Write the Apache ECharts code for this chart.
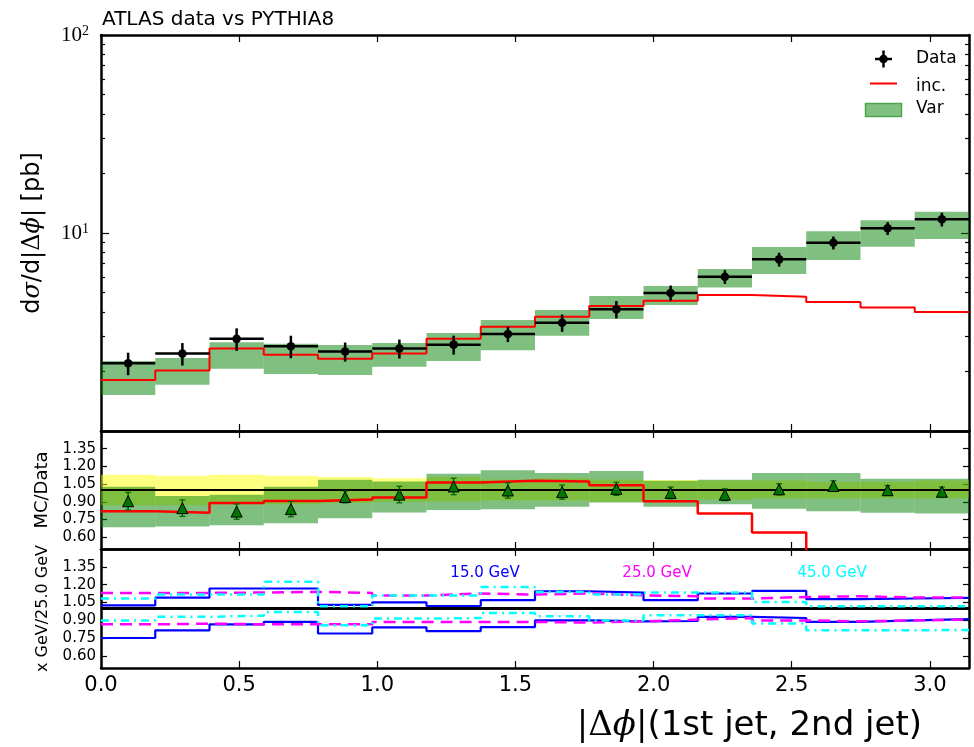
<!DOCTYPE html>
<html><head><meta charset="utf-8">
<script src="https://cdn.jsdelivr.net/npm/echarts@6/dist/echarts.min.js"></script>
<style>html,body{margin:0;padding:0;background:#fff}#c{width:974px;height:747px}</style>
</head><body><div id="c"></div>
<script>
// ---------- binning / ticks ----------
const nBins = 16;
const xMax = Math.PI;
const xTicks = [0, 0.5, 1.0, 1.5, 2.0, 2.5, 3.0];
const ratioTicks = [0.60, 0.75, 0.90, 1.05, 1.20, 1.35];
const logMajor = [10, 100];
const logMinor = [2, 3, 4, 5, 6, 7, 8, 9, 20, 30, 40, 50, 60, 70, 80, 90];
const gevLabels = ['15.0 GeV', '25.0 GeV', '45.0 GeV'];

// ---------- top panel ----------
const dataVal    = [2.20, 2.46, 2.92, 2.68, 2.52, 2.61, 2.73, 3.09, 3.52, 4.12, 4.98, 6.01, 7.36, 8.93, 10.56, 11.73];
const dataRelErr = [0.13, 0.13, 0.13, 0.13, 0.11, 0.11, 0.11, 0.09, 0.10, 0.10, 0.09, 0.08, 0.08, 0.075, 0.075, 0.08];
const incVal     = [1.81, 2.02, 2.61, 2.43, 2.32, 2.46, 2.92, 3.36, 3.78, 4.28, 4.55, 4.86, 4.77, 4.48, 4.20, 3.99];
const varLo      = [1.52, 1.71, 2.06, 1.94, 1.92, 2.11, 2.26, 2.56, 3.03, 3.68, 4.33, 5.30, 6.21, 7.31, 8.53, 9.33];
const varHi      = [2.26, 2.34, 2.81, 2.76, 2.72, 2.78, 3.13, 3.64, 4.08, 4.81, 5.40, 6.58, 8.49, 10.2, 11.6, 12.8];

// ---------- MC/Data panel ----------
const yelLo  = [0.87, 0.87, 0.88, 0.88, 0.89, 0.90, 0.90, 0.91, 0.91, 0.90, 0.92, 0.92, 0.93, 0.93, 0.93, 0.93];
const yelHi  = [1.13, 1.12, 1.13, 1.12, 1.11, 1.10, 1.11, 1.09, 1.10, 1.09, 1.085, 1.08, 1.08, 1.07, 1.07, 1.08];
const rVarLo = [0.684, 0.69, 0.701, 0.718, 0.76, 0.81, 0.83, 0.836, 0.859, 0.895, 0.859, 0.88, 0.842, 0.819, 0.808, 0.80];
const rVarHi = [1.027, 0.949, 0.96, 1.027, 1.086, 1.072, 1.137, 1.168, 1.145, 1.162, 1.078, 1.086, 1.145, 1.145, 1.095, 1.095];
const rInc   = [0.819, 0.808, 0.89, 0.907, 0.92, 0.937, 1.063, 1.078, 1.072, 1.04, 0.904, 0.80, 0.64, 0.46, 0.40, 0.34];
const triVal = [0.905, 0.846, 0.817, 0.838, 0.941, 0.961, 1.03, 0.996, 0.982, 1.01, 0.975, 0.96, 1.006, 1.034, 0.998, 0.985];
const triErr = [0.075, 0.07, 0.065, 0.065, 0.05, 0.07, 0.07, 0.065, 0.06, 0.056, 0.05, 0.05, 0.047, 0.044, 0.04, 0.04];

// ---------- scale-variation panel ----------
const blueHi = [1.027, 1.092, 1.168, 1.168, 1.03, 1.052, 1.021, 1.07, 1.145, 1.134, 1.07, 1.126, 1.148, 1.078, 1.084, 1.089];
const blueLo = [0.752, 0.817, 0.867, 0.887, 0.79, 0.842, 0.81, 0.844, 0.90, 0.892, 0.895, 0.929, 0.92, 0.887, 0.90, 0.91];
const magHi  = [1.131, 1.131, 1.134, 1.14, 1.131, 1.11, 1.126, 1.117, 1.126, 1.11, 1.103, 1.084, 1.097, 1.103, 1.092, 1.092];
const magLo  = [0.867, 0.873, 0.867, 0.867, 0.867, 0.887, 0.887, 0.887, 0.881, 0.892, 0.907, 0.92, 0.90, 0.892, 0.90, 0.907];
const cyanHi = [1.084, 1.117, 1.117, 1.224, 1.019, 1.11, 1.11, 1.181, 1.139, 1.117, 1.134, 1.134, 1.055, 1.019, 1.019, 1.02];
const cyanLo = [0.90, 0.93, 0.94, 0.97, 0.859, 0.915, 0.92, 0.962, 0.935, 0.90, 0.943, 0.943, 0.873, 0.817, 0.817, 0.82];

// ---------- helpers ----------
const edges = Array.from({length: nBins + 1}, (_, i) => i * xMax / nBins);
function stepPoints(vals) {
  const pts = [];
  vals.forEach((v, i) => { pts.push([edges[i], v]); pts.push([edges[i + 1], v]); });
  return pts;
}
function bandData(lo, hi) { return lo.map((l, i) => [edges[i], edges[i + 1], l, hi[i]]); }
function bandSeries(xi, yi, lo, hi, color, z) {
  return {
    type: 'custom', xAxisIndex: xi, yAxisIndex: yi, z, silent: true, clip: true,
    data: bandData(lo, hi), encode: {x: [0, 1], y: [2, 3]},
    renderItem(params, api) {
      const p0 = api.coord([api.value(0), api.value(3)]);
      const p1 = api.coord([api.value(1), api.value(2)]);
      return {type: 'rect', shape: {x: p0[0], y: p0[1], width: p1[0] - p0[0], height: p1[1] - p0[1]},
              style: {fill: color}};
    }
  };
}
function stepLine(xi, yi, vals, color, width, type, z) {
  return {type: 'line', xAxisIndex: xi, yAxisIndex: yi, z, silent: true, clip: true,
          data: stepPoints(vals), symbol: 'none', showSymbol: false,
          lineStyle: {color, width, type}};
}
function unityLine(xi, yi, width, z) {
  return {type: 'line', xAxisIndex: xi, yAxisIndex: yi, z, silent: true,
          data: [[0, 1], [xMax, 1]], symbol: 'none', lineStyle: {color: '#000', width}};
}

const AXW = 2.5;
function xAxisDef(gridIndex, position, showLabels) {
  return {
    type: 'value', gridIndex, position, min: 0, max: xMax,
    axisLine: {show: true, onZero: false, lineStyle: {color: '#000', width: AXW}},
    axisTick: {show: true, inside: true, length: 7, customValues: xTicks, lineStyle: {color: '#000', width: 1.2}},
    axisLabel: showLabels ? {show: true, customValues: xTicks, formatter: v => v.toFixed(1),
      color: '#000', fontSize: 21, fontFamily: 'DejaVu Sans', margin: 7} : {show: false},
    splitLine: {show: false}
  };
}
function yLogDef(position, ticks, len, showLine, showLabels) {
  const ax = {
    type: 'log', logBase: 10, gridIndex: 0, position, offset: 0, min: 1, max: 100,
    axisLine: {show: showLine, onZero: false, lineStyle: {color: '#000', width: AXW}},
    axisTick: {show: true, inside: true, length: len, customValues: ticks, lineStyle: {color: '#000', width: 1.2}},
    axisLabel: {show: false},
    splitLine: {show: false}, minorTick: {show: false}
  };
  if (showLabels) {
    ax.axisLabel = {
      show: true, customValues: logMajor, margin: 12,
      formatter: v => '{b|10}{s|' + Math.round(Math.log10(v)) + '}',
      rich: {
        b: {fontFamily: 'Liberation Serif', fontSize: 21, lineHeight: 22, color: '#000'},
        s: {fontFamily: 'Liberation Serif', fontSize: 14, lineHeight: 14, color: '#000', verticalAlign: 'top'}
      }
    };
    ax.name = '{a|d}{m|σ}{a|/d}{u||Δ}{m|ϕ}{u||}{a| [pb]}';
    ax.nameLocation = 'middle';
    ax.nameRotate = 90;
    ax.nameGap = 56;
    ax.nameMoveOverlap = false;
    ax.nameTextStyle = {
      color: '#000', fontSize: 24,
      rich: {
        a: {fontFamily: 'DejaVu Sans', fontSize: 24, color: '#000'},
        m: {fontFamily: 'DejaVu Serif', fontStyle: 'italic', fontSize: 24, color: '#000'},
        u: {fontFamily: 'DejaVu Serif', fontSize: 24, color: '#000'}
      }
    };
  }
  return ax;
}
function yRatioDef(gridIndex, position, showLabels, name, nameSize) {
  const ax = {
    type: 'value', gridIndex, position, min: 0.5, max: 1.5,
    axisLine: {show: true, onZero: false, lineStyle: {color: '#000', width: AXW}},
    axisTick: {show: true, inside: true, length: 6, customValues: ratioTicks, lineStyle: {color: '#000', width: 1.2}},
    axisLabel: showLabels ? {show: true, customValues: ratioTicks, formatter: v => v.toFixed(2),
      color: '#000', fontSize: 15, fontFamily: 'DejaVu Sans', margin: 5} : {show: false},
    splitLine: {show: false}
  };
  if (name) {
    ax.name = name; ax.nameLocation = 'middle'; ax.nameRotate = 90; ax.nameGap = 50;
    ax.nameMoveOverlap = false;
    ax.nameTextStyle = {color: '#000', fontSize: nameSize, fontFamily: 'DejaVu Sans'};
  }
  return ax;
}

const grids = [
  {left: 101, top: 35, width: 868, height: 396},
  {left: 101, top: 431, width: 868, height: 118},
  {left: 101, top: 549, width: 868, height: 119}
].map(g => Object.assign(g, {containLabel: false, outerBoundsMode: 'none', show: false}));

const xAxes = [
  xAxisDef(0, 'bottom', false), xAxisDef(0, 'top', false),
  xAxisDef(1, 'bottom', false), xAxisDef(1, 'top', false),
  xAxisDef(2, 'bottom', true),  xAxisDef(2, 'top', false)
];
const yAxes = [
  yLogDef('left', logMajor, 8, true, true),   // 0
  yLogDef('left', logMinor, 4, false, false), // 1
  yLogDef('right', logMajor, 8, true, false), // 2
  yLogDef('right', logMinor, 4, false, false),// 3
  yRatioDef(1, 'left', true, 'MC/Data', 18),  // 4
  yRatioDef(1, 'right', false),               // 5
  yRatioDef(2, 'left', true, 'x GeV/25.0 GeV', 16), // 6
  yRatioDef(2, 'right', false)                // 7
];

// data markers (top panel)
const dataSeries = {
  type: 'custom', xAxisIndex: 0, yAxisIndex: 0, z: 6, silent: true,
  data: dataVal.map((v, i) => [edges[i], edges[i + 1], v, v * (1 - dataRelErr[i]), v * (1 + dataRelErr[i])]),
  encode: {x: [0, 1], y: [2, 3, 4]},
  renderItem(params, api) {
    const x0 = api.value(0), x1 = api.value(1), v = api.value(2);
    const xc = (x0 + x1) / 2;
    const pL = api.coord([x0, v]), pR = api.coord([x1, v]);
    const pc = api.coord([xc, v]), pLo = api.coord([xc, api.value(3)]), pHi = api.coord([xc, api.value(4)]);
    return {type: 'group', children: [
      {type: 'line', shape: {x1: pL[0], y1: pL[1], x2: pR[0], y2: pR[1]}, style: {stroke: '#000', lineWidth: 2.5}},
      {type: 'line', shape: {x1: pc[0], y1: pLo[1], x2: pc[0], y2: pHi[1]}, style: {stroke: '#000', lineWidth: 2.5}},
      {type: 'circle', shape: {cx: pc[0], cy: pc[1], r: 4.3}, style: {fill: '#000'}}
    ]};
  }
};
// triangles (ratio panel)
const triSeries = {
  type: 'custom', xAxisIndex: 2, yAxisIndex: 4, z: 7, silent: true, clip: true,
  data: triVal.map((v, i) => [(edges[i] + edges[i + 1]) / 2, v, v - triErr[i], v + triErr[i]]),
  encode: {x: 0, y: [1, 2, 3]},
  renderItem(params, api) {
    const pc = api.coord([api.value(0), api.value(1)]);
    const pLo = api.coord([api.value(0), api.value(2)]);
    const pHi = api.coord([api.value(0), api.value(3)]);
    const cx = pc[0], cy = pc[1], h = 5.5;
    const ec = '#006400';
    return {type: 'group', children: [
      {type: 'line', shape: {x1: cx, y1: pLo[1], x2: cx, y2: pHi[1]}, style: {stroke: ec, lineWidth: 1.5}},
      {type: 'line', shape: {x1: cx - 3, y1: pLo[1], x2: cx + 3, y2: pLo[1]}, style: {stroke: ec, lineWidth: 1.2}},
      {type: 'line', shape: {x1: cx - 3, y1: pHi[1], x2: cx + 3, y2: pHi[1]}, style: {stroke: ec, lineWidth: 1.2}},
      {type: 'polygon', shape: {points: [[cx, cy - h], [cx - h, cy + h], [cx + h, cy + h]]},
       style: {fill: '#007800', stroke: '#000', lineWidth: 1}}
    ]};
  }
};

const GREEN = 'rgba(0,128,0,0.5)';
const YELLOW = 'rgba(255,255,0,0.5)';
const DASH = [12, 7];
const DASHDOT = [8, 5, 2, 5];
const series = [
  bandSeries(0, 0, varLo, varHi, GREEN, 1),
  stepLine(0, 0, incVal, '#ff0000', 2, 'solid', 4),
  dataSeries,
  bandSeries(2, 4, yelLo, yelHi, YELLOW, 1),
  bandSeries(2, 4, rVarLo, rVarHi, GREEN, 2),
  unityLine(2, 4, 2, 3),
  stepLine(2, 4, rInc, '#ff0000', 2.5, 'solid', 5),
  triSeries,
  unityLine(4, 6, 3, 2),
  stepLine(4, 6, blueHi, '#0000ff', 2.2, 'solid', 3),
  stepLine(4, 6, blueLo, '#0000ff', 2.2, 'solid', 3),
  stepLine(4, 6, magHi, '#ff00ff', 2.5, DASH, 4),
  stepLine(4, 6, magLo, '#ff00ff', 2.5, DASH, 4),
  stepLine(4, 6, cyanHi, '#00ffff', 2.5, DASHDOT, 5),
  stepLine(4, 6, cyanLo, '#00ffff', 2.5, DASHDOT, 5)
];

const txt = (text, x, y, size, color, align) => ({
  type: 'text', x, y, silent: true, z: 100,
  style: {text, fontSize: size, fontFamily: 'DejaVu Sans', fill: color || '#000',
          align: align || 'left', verticalAlign: 'middle', textAlign: align || 'left', textVerticalAlign: 'middle'}
});
const graphics = [
  // legend
  {type: 'line', silent: true, z: 100, shape: {x1: 875, y1: 59, x2: 892, y2: 59}, style: {stroke: '#000', lineWidth: 2.5}},
  {type: 'line', silent: true, z: 100, shape: {x1: 883.5, y1: 50.5, x2: 883.5, y2: 67.5}, style: {stroke: '#000', lineWidth: 2.5}},
  {type: 'circle', silent: true, z: 100, shape: {cx: 883.5, cy: 59, r: 4.3}, style: {fill: '#000'}},
  txt('Data', 916, 59, 17),
  {type: 'line', silent: true, z: 100, shape: {x1: 870, y1: 83.5, x2: 897, y2: 83.5}, style: {stroke: '#ff0000', lineWidth: 2}},
  txt('inc.', 916, 87, 17),
  {type: 'rect', silent: true, z: 100, shape: {x: 865.5, y: 103.5, width: 36, height: 13},
   style: {fill: '#80c080', stroke: '#4da64d', lineWidth: 1.5}},
  txt('Var', 916, 109, 17),
  // variation labels
  txt(gevLabels[0], 485, 573, 15, '#0000ff', 'center'),
  txt(gevLabels[1], 657, 573, 15, '#ff00ff', 'center'),
  txt(gevLabels[2], 832, 573, 15, '#00ffff', 'center'),
  // x-axis title
  {type: 'text', x: 922, y: 726, silent: true, z: 100,
   style: {text: '{u||Δ}{m|ϕ}{u||}{a|(1st jet, 2nd jet)}', align: 'right', verticalAlign: 'middle',
     textAlign: 'right', textVerticalAlign: 'middle', fill: '#000', fontSize: 34,
     rich: {
       a: {fontFamily: 'DejaVu Sans', fontSize: 34, fill: '#000', color: '#000'},
       m: {fontFamily: 'DejaVu Serif', fontStyle: 'italic', fontSize: 34, fill: '#000', color: '#000'},
       u: {fontFamily: 'DejaVu Serif', fontSize: 34, fill: '#000', color: '#000'}
     }}}
];

const chart = echarts.init(document.getElementById('c'), null, {renderer: 'canvas'});
chart.setOption({
  animation: false,
  backgroundColor: '#fff',
  title: {text: 'ATLAS data vs PYTHIA8', left: 102, top: 10, padding: 0,
          textStyle: {fontSize: 20, fontWeight: 'normal', fontFamily: 'DejaVu Sans', color: '#000'}},
  grid: grids,
  xAxis: xAxes,
  yAxis: yAxes,
  series,
  graphic: graphics
});
</script>
</body></html>
